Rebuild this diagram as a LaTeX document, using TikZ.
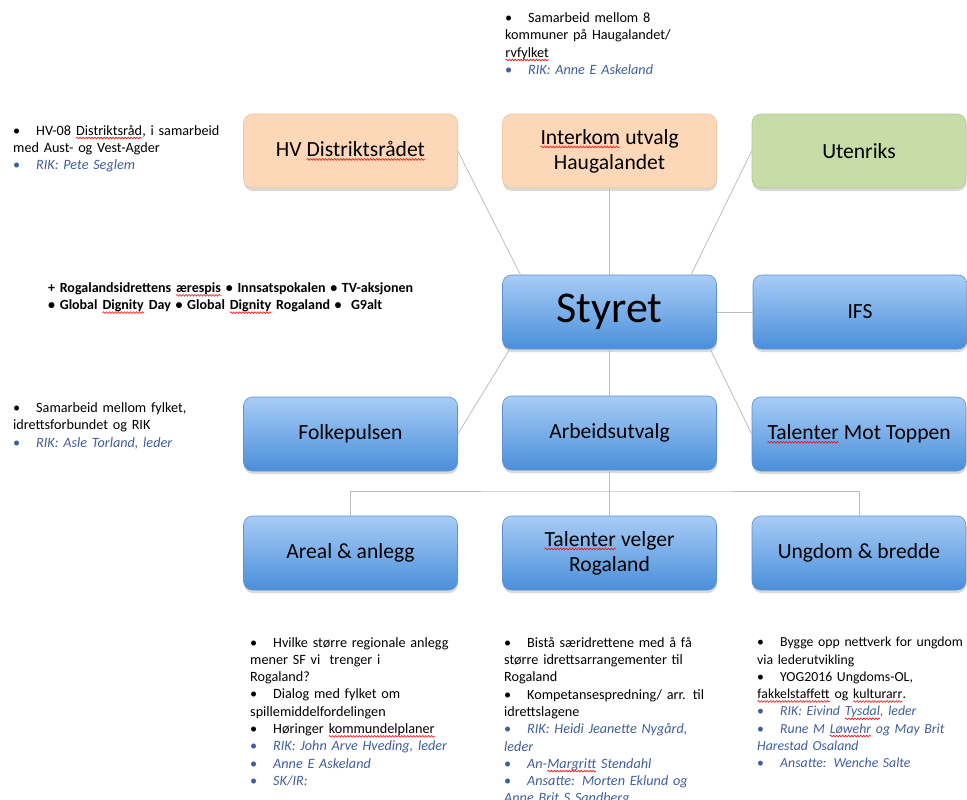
\documentclass[tikz,border=0pt]{standalone}
\usepackage{fontspec}
\setmainfont{Carlito}
\usetikzlibrary{positioning,calc,shadows,decorations.pathmorphing}
\definecolor{bluetop}{HTML}{A8CCF6}
\definecolor{bluebot}{HTML}{4A8FDA}
\definecolor{blueline}{HTML}{5A92D0}
\definecolor{peach}{HTML}{FCD8B9}
\definecolor{peachline}{HTML}{EFC7A4}
\definecolor{lightgreen}{HTML}{C6DDA7}
\definecolor{greenline}{HTML}{AFC78F}
\definecolor{rikblue}{HTML}{3F5E9C}
\definecolor{linkgray}{HTML}{BDBDBD}

% bullet lines of the notes
\newcommand\bitem[2][black]{\noindent\hangindent=23pt\hangafter=1%
  \makebox[23pt][l]{\textcolor{#1}{\textbullet}}\textcolor{#1}{#2}\par}
\newcommand\rik[1]{\bitem[rikblue]{\itshape #1}}
% red spelling mark under a word
\newcommand\squig[1]{\tikz[baseline=(w.base)]{\node[rectangle, inner sep=0pt,
    outer sep=0pt, minimum width=0pt, minimum height=0pt] (w) {#1};
    \draw[sharp corners, red, line width=0.55pt, decorate,
    decoration={snake, amplitude=0.9pt, segment length=3pt}]
    ([yshift=-2.8pt]w.base west) -- ([yshift=-2.8pt]w.base east);}}

\begin{document}
\begin{tikzpicture}[x=1pt, y=-1pt,
        box/.style={rectangle, rounded corners=9pt, minimum width=214pt,
          minimum height=74pt, line width=0.6pt, align=center,
          font=\fontsize{21.6}{25}\selectfont,
        drop shadow={shadow xshift=0.5pt, shadow yshift=-3pt, opacity=0.3}},
        bluebox/.style={box, draw=blueline, top color=bluetop,
        bottom color=bluebot},
        peachbox/.style={box, draw=peachline, fill=peach},
        greenbox/.style={box, draw=greenline, fill=lightgreen},
        notes/.style={anchor=north west, inner sep=0pt, text width=#1,
        align=left, font=\fontsize{14.2}{17.3}\selectfont},
        link/.style={draw=linkgray, line width=0.8pt},
      ]
      \useasboundingbox (0,0) rectangle (967,800);

      % =================== TOP ROW ===================
      \node[peachbox] (hv) at (350.5,151) {HV \squig{Distriktsrådet}};
      \node[peachbox] (ik) at (609.5,151) {\squig{Interkom} utvalg\\Haugalandet};
      \node[greenbox] (ute) at (859,151) {Utenriks};

      % =================== BOARD ===================
      \node[bluebox, font=\fontsize{44}{48}\selectfont] (sty) at (609.5,312) {Styret};
      \node[bluebox] (ifs) at (860,312) {IFS};

      \node[bluebox] (folk) at (350.5,434) {Folkepulsen};
      \node[bluebox] (arb) at (609.5,433) {Arbeidsutvalg};
      \node[bluebox] (tmt) at (859,434) {\squig{Talenter} Mot Toppen};

      % =================== GROUPS ===================
      \node[bluebox] (areal) at (350.5,553) {Areal \& anlegg};
      \node[bluebox] (tvr) at (609.5,553) {\squig{Talenter} velger\\Rogaland};
      \node[bluebox] (ung) at (859,553) {Ungdom \& bredde};

      % =================== CONNECTIONS ===================
      \draw[link] (hv.east) -- ($(sty.north west)!0.085!(sty.north east)$);
      \draw[link] (ik.south) -- (sty.north);
      \draw[link] (ute.west) -- ($(sty.north west)!0.88!(sty.north east)$);
      \draw[link] (sty.east) -- (ifs.west);
      \draw[link] ($(sty.south west)!0.035!(sty.south east)$) -- (folk.east);
      \draw[link] ($(sty.south west)!0.97!(sty.south east)$) -- (tmt.west);
      \draw[link] (sty.south) -- (arb.north);
      \draw[link] (arb.south) -- (tvr.north);
      \coordinate (split) at (609.5,491);
      \draw[link] (areal.north) |- (split) -| (ung.north);

      % =================== NOTES ===================
      \node[notes=250pt] (hvnote) at (13,125) {%
        \bitem{HV-08 \squig{Distriktsråd}, i samarbeid\\ med Aust- og Vest-Agder}
      \rik{RIK: Pete Seglem}};

      \node[notes=240pt] (iknote) at (505,12.5) {%
        \bitem{Samarbeid mellom 8\\ kommuner på Haugalandet/\\ \squig{rvfylket}}
      \rik{RIK: Anne E Askeland}};

      \node[notes=440pt, font=\fontsize{14}{17.3}\selectfont\bfseries]
      (prizes) at (48,282.5) {%
        + Rogalandsidrettens \squig{ærespis} \textbullet{} Innsatspokalen
        \textbullet{} TV-aksjonen\\
        \textbullet{} Global \squig{Dignity} Day \textbullet{} Global
      \squig{Dignity} Rogaland \textbullet{}~~G9alt};

      \node[notes=250pt] (folknote) at (13,402.5) {%
        \bitem{Samarbeid mellom fylket,\\ idrettsforbundet og RIK}
      \rik{RIK: Asle Torland, leder}};

      \node[notes=250pt] (arealnote) at (250,637) {%
        \bitem{Hvilke større regionale anlegg\\ mener SF vi~ trenger i\\ Rogaland?}
        \bitem{Dialog med fylket om\\ spillemiddelfordelingen}
        \bitem{Høringer \squig{kommundelplaner}}
        \rik{RIK: John Arve Hveding, leder}
        \rik{Anne E Askeland}
      \rik{SK/IR:}};

      \node[notes=250pt] (tvrnote) at (504,637) {%
        \bitem{Bistå særidrettene med å få\\ større idrettsarrangementer til\\ Rogaland}
        \bitem{Kompetansespredning/ arr. til\\ idrettslagene}
        \rik{RIK: Heidi Jeanette Nygård,\\ leder}
        \rik{An-\squig{Margritt} Stendahl}
      \rik{Ansatte: Morten Eklund og\\ Anne Brit S Sandberg}};

      \node[notes=210pt, font=\fontsize{13.8}{17.3}\selectfont]
      (ungnote) at (757,637) {%
        \bitem{Bygge opp nettverk for ungdom\\ via lederutvikling}
        \bitem{YOG2016 Ungdoms-OL,\\ \squig{fakkelstaffett} og \squig{kulturarr}.}
        \rik{RIK: Eivind \squig{Tysdal}, leder}
        \rik{Rune M \squig{Løwehr} og May Brit\\ Harestad Osaland}
      \rik{Ansatte: Wenche Salte}};

    \end{tikzpicture}
\end{document}
